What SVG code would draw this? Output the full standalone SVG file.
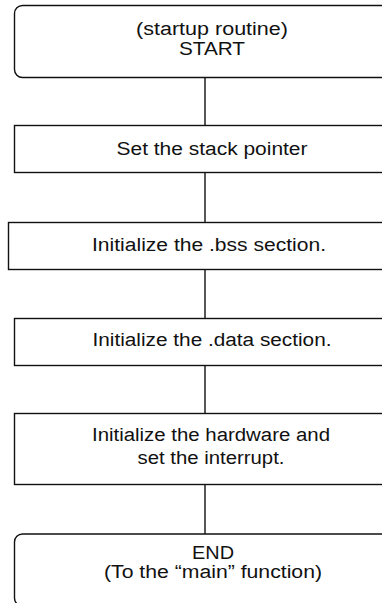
<svg xmlns="http://www.w3.org/2000/svg" width="382" height="603" viewBox="0 0 382 603">
<style>
.box{fill:#fff;stroke:#111;stroke-width:1.4}
.t{font-family:"Liberation Sans",Arial,sans-serif;font-size:18px;fill:#111;text-anchor:middle}
.c{stroke:#111;stroke-width:1.4;fill:none}
</style>
<rect width="382" height="603" fill="#fff"/>
<g id="connectors">
<line class="c" x1="205" y1="77.5" x2="205" y2="125.5"/>
<line class="c" x1="205" y1="172.5" x2="205" y2="222.5"/>
<line class="c" x1="205" y1="269.5" x2="205" y2="318.5"/>
<line class="c" x1="205" y1="365.5" x2="205" y2="413.5"/>
<line class="c" x1="205" y1="484.5" x2="205" y2="534"/>
</g>
<g id="start">
<rect class="box" x="14.5" y="5.5" width="396" height="72" rx="8"/>
<text class="t" x="212" y="34.5" textLength="152" lengthAdjust="spacingAndGlyphs">(startup routine)</text>
<text class="t" x="212" y="54.5" textLength="66" lengthAdjust="spacingAndGlyphs">START</text>
</g>
<g id="stack">
<rect class="box" x="14.5" y="125.5" width="396" height="47"/>
<text class="t" x="212" y="154.5" textLength="191" lengthAdjust="spacingAndGlyphs">Set the stack pointer</text>
</g>
<g id="bss">
<rect class="box" x="8.5" y="222.5" width="402" height="47"/>
<text class="t" x="209" y="250.5" textLength="234" lengthAdjust="spacingAndGlyphs">Initialize the .bss section.</text>
</g>
<g id="data">
<rect class="box" x="14.5" y="318.5" width="396" height="47"/>
<text class="t" x="212" y="345.5" textLength="239" lengthAdjust="spacingAndGlyphs">Initialize the .data section.</text>
</g>
<g id="hardware">
<rect class="box" x="14.5" y="413.5" width="396" height="71"/>
<text class="t" x="211" y="440.5" textLength="238" lengthAdjust="spacingAndGlyphs">Initialize the hardware and</text>
<text class="t" x="211" y="463.5" textLength="147" lengthAdjust="spacingAndGlyphs">set the interrupt.</text>
</g>
<g id="end">
<rect class="box" x="14.5" y="534" width="396" height="72" rx="8"/>
<text class="t" x="213" y="558.5" textLength="42" lengthAdjust="spacingAndGlyphs">END</text>
<text class="t" x="213" y="578" textLength="218" lengthAdjust="spacingAndGlyphs">(To the “main” function)</text>
</g>
</svg>
